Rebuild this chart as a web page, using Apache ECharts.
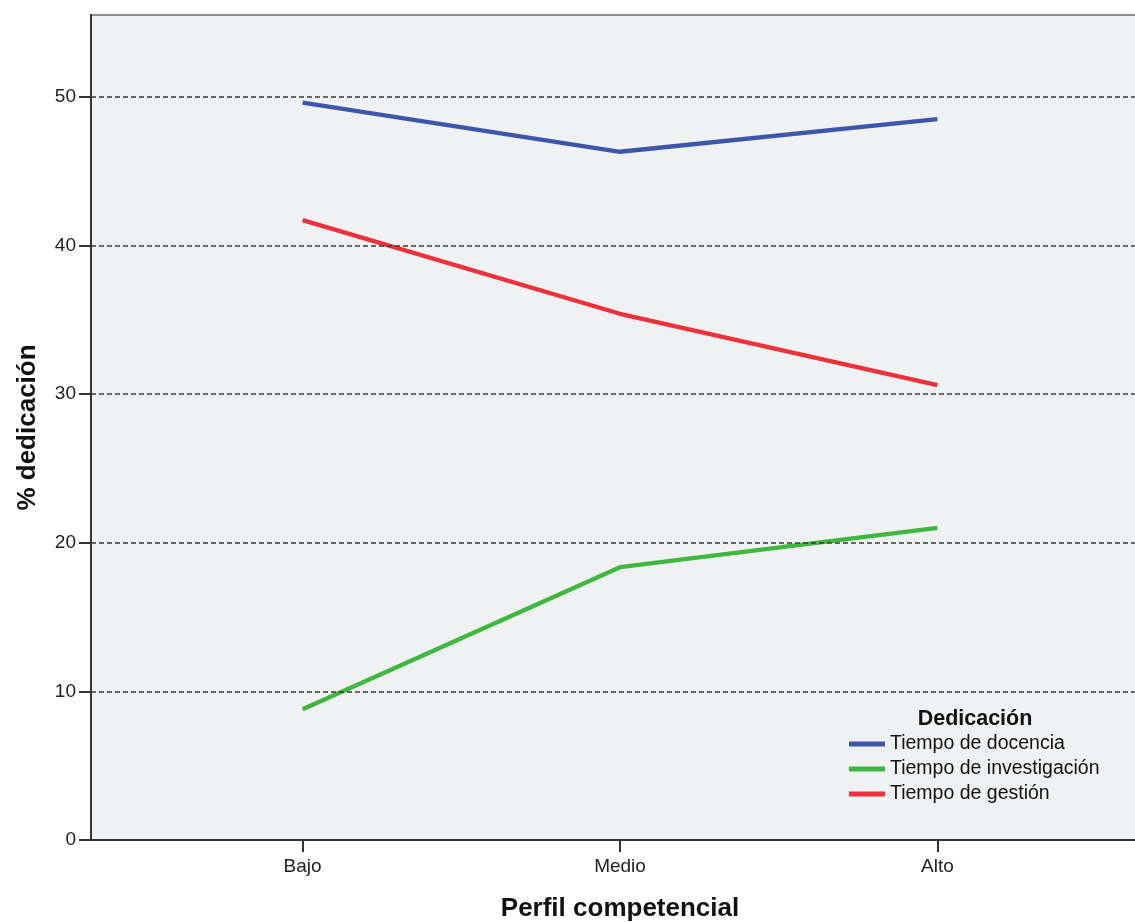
<!DOCTYPE html>
<html>
<head>
<meta charset="utf-8">
<title>% dedicación por perfil competencial</title>
<script src="https://cdn.jsdelivr.net/npm/echarts@6/dist/echarts.min.js"></script>
<style>
  html, body { margin: 0; padding: 0; background: #ffffff; }
  #chart { width: 1135px; height: 922px; }
</style>
</head>
<body>
<div id="chart"></div>
<script>
// Categories on the horizontal axis
const categories = ['Bajo', 'Medio', 'Alto'];

// Percentage of time devoted to each activity
const docencia = [49.6, 46.3, 48.5];
const investigacion = [8.8, 18.35, 21.0];
const gestion = [41.7, 35.4, 30.6];

// Tick values of the vertical axis and dashed reference lines
const yTicks = [0, 10, 20, 30, 40, 50];
const refLines = [10, 20, 30, 40, 50];

const seriesNames = ['Tiempo de docencia', 'Tiempo de investigación', 'Tiempo de gestión'];
const seriesColors = ['#3d56ad', '#3eb83e', '#ee303b'];
const seriesValues = [docencia, investigacion, gestion];

const FONT = '"Liberation Sans", Arial, sans-serif';
const catIndex = categories.map((_, i) => i);

const chart = echarts.init(document.getElementById('chart'), null, { renderer: 'canvas' });

const lineSeries = seriesNames.map((name, k) => ({
  name: name,
  type: 'line',
  z: 3,
  color: seriesColors[k],
  symbol: 'none',
  lineStyle: { width: 4.3, color: seriesColors[k] },
  data: seriesValues[k].map((v, i) => [catIndex[i], v]),
  animation: false
}));

const option = {
  animation: false,
  grid: {
    left: 91, right: -14, top: 15, bottom: 82,
    outerBoundsMode: 'none',
    show: true,
    backgroundColor: '#f0f1f2',
    borderColor: '#8c8c8c',
    borderWidth: 2
  },
  xAxis: {
    type: 'value',
    min: -2 / 3,
    max: 8 / 3,
    name: 'Perfil competencial',
    nameLocation: 'middle',
    nameGap: 56,
    nameTextStyle: { fontFamily: FONT, fontSize: 26, fontWeight: 'bold', color: '#111' },
    axisLine: { show: true, onZero: false, lineStyle: { color: '#333', width: 2 } },
    axisTick: { show: true, length: 12, customValues: catIndex, lineStyle: { color: '#333', width: 2 } },
    axisLabel: {
      customValues: catIndex,
      margin: 17,
      fontFamily: FONT, fontSize: 19, color: '#222',
      formatter: v => categories[Math.round(v)]
    },
    splitLine: { show: false }
  },
  yAxis: {
    type: 'value',
    min: 0,
    max: 55.5,
    name: '% dedicación',
    nameLocation: 'middle',
    nameGap: 50,
    nameTextStyle: { fontFamily: FONT, fontSize: 26, fontWeight: 'bold', color: '#111' },
    axisLine: { show: true, onZero: false, lineStyle: { color: '#333', width: 2 } },
    axisTick: { show: true, length: 12, customValues: yTicks, lineStyle: { color: '#333', width: 2 } },
    axisLabel: {
      customValues: yTicks,
      margin: 15,
      padding: [6, 0, 0, 0],
      fontFamily: FONT, fontSize: 19, color: '#222'
    },
    splitLine: { show: false }
  },
  legend: {
    orient: 'vertical',
    left: 849,
    top: 734,
    data: seriesNames,
    icon: 'rect',
    itemWidth: 36,
    itemHeight: 5,
    itemGap: 5,
    textStyle: { fontFamily: FONT, fontSize: 19.5, color: '#111', lineHeight: 20, padding: [0, 0, 0, 0] },
    padding: 0
  },
  graphic: [{
    type: 'text',
    x: 975,
    y: 719,
    style: {
      text: 'Dedicación',
      align: 'center',
      verticalAlign: 'middle',
      font: 'bold 21.5px ' + FONT,
      fill: '#111'
    },
    z: 10
  }],
  series: [{
    name: '_ref',
    type: 'line',
    z: 1,
    data: [],
    markLine: {
      silent: true,
      symbol: 'none',
      label: { show: false },
      lineStyle: { color: '#3a3a3a', width: 1.5, type: [5, 3] },
      data: refLines.map(v => ({ yAxis: v }))
    }
  }].concat(lineSeries)
};

chart.setOption(option);
</script>
</body>
</html>
